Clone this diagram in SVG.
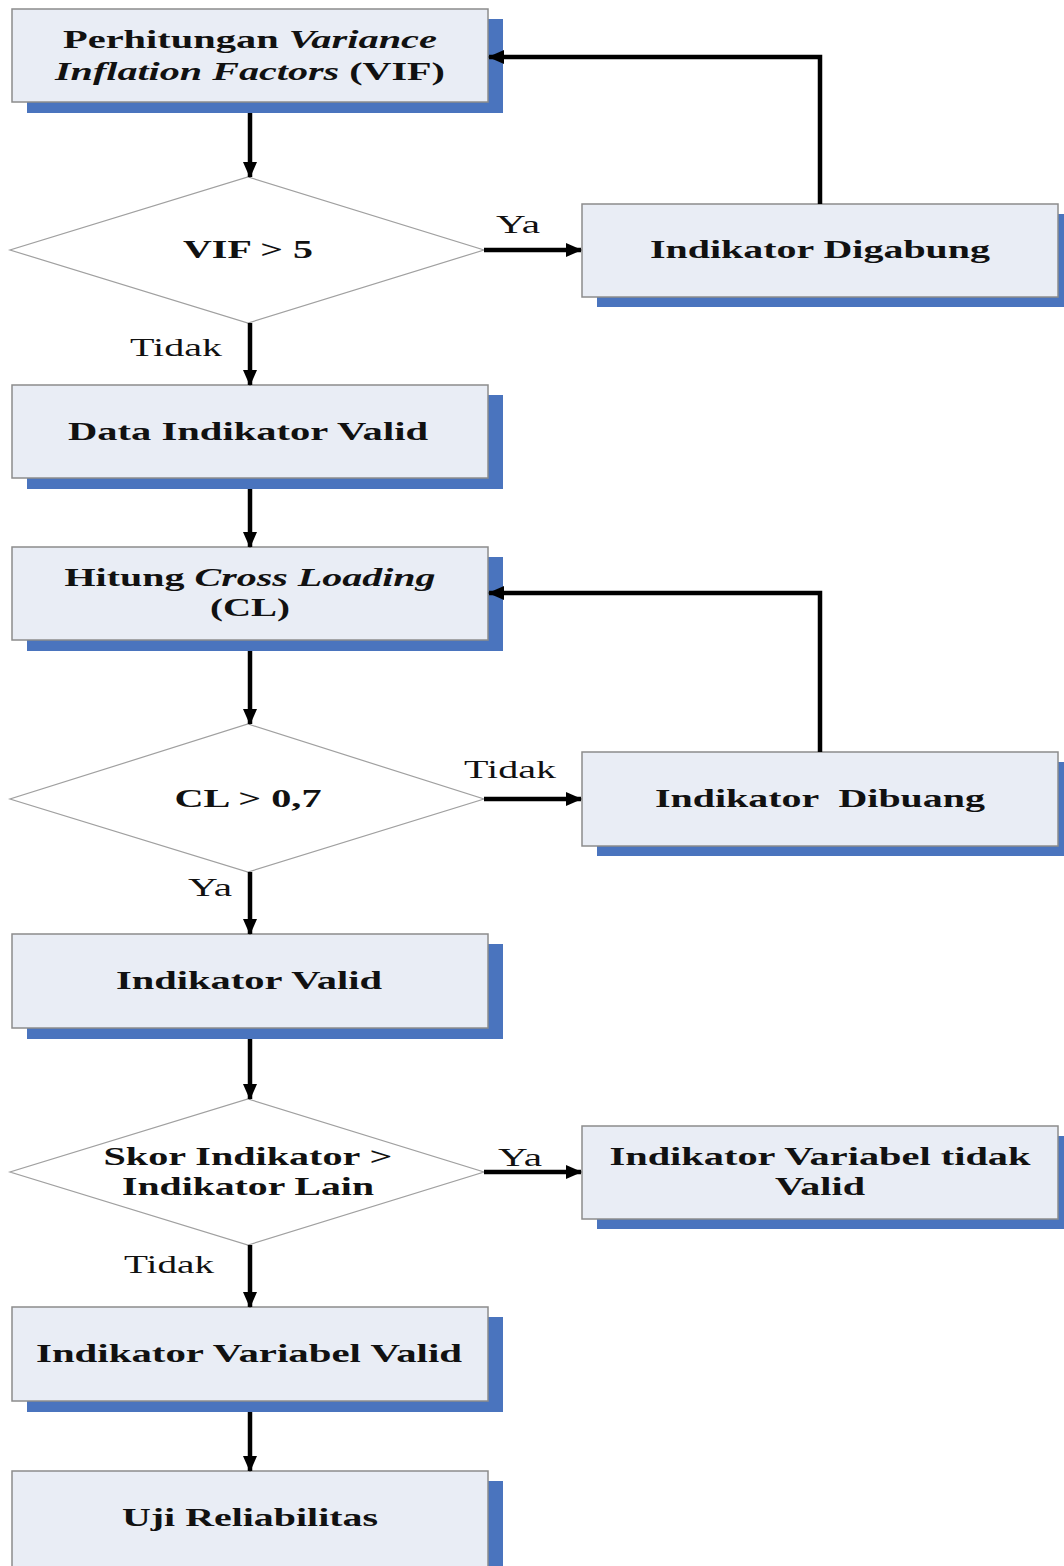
<svg xmlns="http://www.w3.org/2000/svg" width="1064" height="1566" viewBox="0 0 1064 1566">
<defs>
<style>
.sh{fill:#4a74be}
.bx{fill:#e9edf5;stroke:#8c8c8c;stroke-width:1.5}
.dm{fill:#ffffff;stroke:#a0a0a0;stroke-width:1.2}
.t{font-family:"Liberation Serif","Times New Roman",serif;font-weight:bold;font-size:26px;fill:#111;text-anchor:middle}
.l{font-family:"Liberation Serif","Times New Roman",serif;font-size:25px;fill:#111;text-anchor:middle}
.i{font-style:italic}
.c{stroke:#000;stroke-width:4.5;fill:none}
</style>
<marker id="ah" viewBox="0 0 16 14" refX="15" refY="7" markerWidth="16" markerHeight="14" orient="auto" markerUnits="userSpaceOnUse">
<path d="M0,0 L16,7 L0,14 z" fill="#000"/>
</marker>
</defs>
<rect width="1064" height="1566" fill="#ffffff"/>

<g id="vif">
<rect class="sh" x="27" y="19" width="476" height="94"/>
<rect class="bx" x="12" y="9" width="476" height="93"/>
<text class="t" x="250" y="48" textLength="374" lengthAdjust="spacingAndGlyphs">Perhitungan <tspan class="i">Variance</tspan></text>
<text class="t" x="250" y="80" textLength="390" lengthAdjust="spacingAndGlyphs"><tspan class="i">Inflation Factors</tspan> (VIF)</text>
</g>

<g id="d_vif">
<polygon class="dm" points="248,177 484,250 248,323 10,250"/>
<text class="t" x="248" y="258" textLength="130" lengthAdjust="spacingAndGlyphs">VIF &gt; 5</text>
</g>

<g id="digabung">
<rect class="sh" x="597" y="214" width="467" height="93"/>
<rect class="bx" x="582" y="204" width="476" height="93"/>
<text class="t" x="820" y="258" textLength="340" lengthAdjust="spacingAndGlyphs">Indikator Digabung</text>
</g>

<g id="data_valid">
<rect class="sh" x="27" y="395" width="476" height="94"/>
<rect class="bx" x="12" y="385" width="476" height="93"/>
<text class="t" x="248" y="440" textLength="360" lengthAdjust="spacingAndGlyphs">Data Indikator Valid</text>
</g>

<g id="cl">
<rect class="sh" x="27" y="557" width="476" height="94"/>
<rect class="bx" x="12" y="547" width="476" height="93"/>
<text class="t" x="250" y="586" textLength="371" lengthAdjust="spacingAndGlyphs">Hitung <tspan class="i">Cross Loading</tspan></text>
<text class="t" x="250" y="616" textLength="80" lengthAdjust="spacingAndGlyphs">(CL)</text>
</g>

<g id="d_cl">
<polygon class="dm" points="248,724 484,799 248,872 10,799"/>
<text class="t" x="248" y="807" textLength="147" lengthAdjust="spacingAndGlyphs">CL &gt; 0,7</text>
</g>

<g id="dibuang">
<rect class="sh" x="597" y="762" width="467" height="94"/>
<rect class="bx" x="582" y="752" width="476" height="94"/>
<text class="t" x="820" y="807" textLength="330" lengthAdjust="spacingAndGlyphs" xml:space="preserve">Indikator  Dibuang</text>
</g>

<g id="ind_valid">
<rect class="sh" x="27" y="944" width="476" height="95"/>
<rect class="bx" x="12" y="934" width="476" height="94"/>
<text class="t" x="249" y="989" textLength="266" lengthAdjust="spacingAndGlyphs">Indikator Valid</text>
</g>

<g id="d_skor">
<polygon class="dm" points="248,1099 484,1172 248,1245 10,1172"/>
<text class="t" x="248" y="1165" textLength="289" lengthAdjust="spacingAndGlyphs">Skor Indikator &gt;</text>
<text class="t" x="248" y="1195" textLength="252" lengthAdjust="spacingAndGlyphs">Indikator Lain</text>
</g>

<g id="tidak_valid">
<rect class="sh" x="597" y="1136" width="467" height="93"/>
<rect class="bx" x="582" y="1126" width="476" height="93"/>
<text class="t" x="820" y="1165" textLength="421" lengthAdjust="spacingAndGlyphs">Indikator Variabel tidak</text>
<text class="t" x="820" y="1195" textLength="90" lengthAdjust="spacingAndGlyphs">Valid</text>
</g>

<g id="var_valid">
<rect class="sh" x="27" y="1317" width="476" height="95"/>
<rect class="bx" x="12" y="1307" width="476" height="94"/>
<text class="t" x="249" y="1362" textLength="426" lengthAdjust="spacingAndGlyphs">Indikator Variabel Valid</text>
</g>

<g id="reliabilitas">
<rect class="sh" x="27" y="1481" width="476" height="95"/>
<rect class="bx" x="12" y="1471" width="476" height="100"/>
<text class="t" x="250" y="1526" textLength="256" lengthAdjust="spacingAndGlyphs">Uji Reliabilitas</text>
</g>

<g id="connectors">
<line class="c" x1="250" y1="113" x2="250" y2="177" marker-end="url(#ah)"/>
<line class="c" x1="484" y1="250" x2="581" y2="250" marker-end="url(#ah)"/>
<polyline class="c" points="820,204 820,57 489,57" marker-end="url(#ah)"/>
<line class="c" x1="250" y1="323" x2="250" y2="385" marker-end="url(#ah)"/>
<line class="c" x1="250" y1="489" x2="250" y2="547" marker-end="url(#ah)"/>
<line class="c" x1="250" y1="651" x2="250" y2="724" marker-end="url(#ah)"/>
<line class="c" x1="484" y1="799" x2="581" y2="799" marker-end="url(#ah)"/>
<polyline class="c" points="820,752 820,593 489,593" marker-end="url(#ah)"/>
<line class="c" x1="250" y1="872" x2="250" y2="934" marker-end="url(#ah)"/>
<line class="c" x1="250" y1="1039" x2="250" y2="1099" marker-end="url(#ah)"/>
<line class="c" x1="484" y1="1172" x2="581" y2="1172" marker-end="url(#ah)"/>
<line class="c" x1="250" y1="1245" x2="250" y2="1307" marker-end="url(#ah)"/>
<line class="c" x1="250" y1="1412" x2="250" y2="1471" marker-end="url(#ah)"/>
<text class="l" x="518" y="233" textLength="44" lengthAdjust="spacingAndGlyphs">Ya</text>
<text class="l" x="176" y="356" textLength="92" lengthAdjust="spacingAndGlyphs">Tidak</text>
<text class="l" x="510" y="778" textLength="92" lengthAdjust="spacingAndGlyphs">Tidak</text>
<text class="l" x="210" y="896" textLength="44" lengthAdjust="spacingAndGlyphs">Ya</text>
<text class="l" x="520" y="1166" textLength="44" lengthAdjust="spacingAndGlyphs">Ya</text>
<text class="l" x="169" y="1273" textLength="90" lengthAdjust="spacingAndGlyphs">Tidak</text>
</g>
</svg>
